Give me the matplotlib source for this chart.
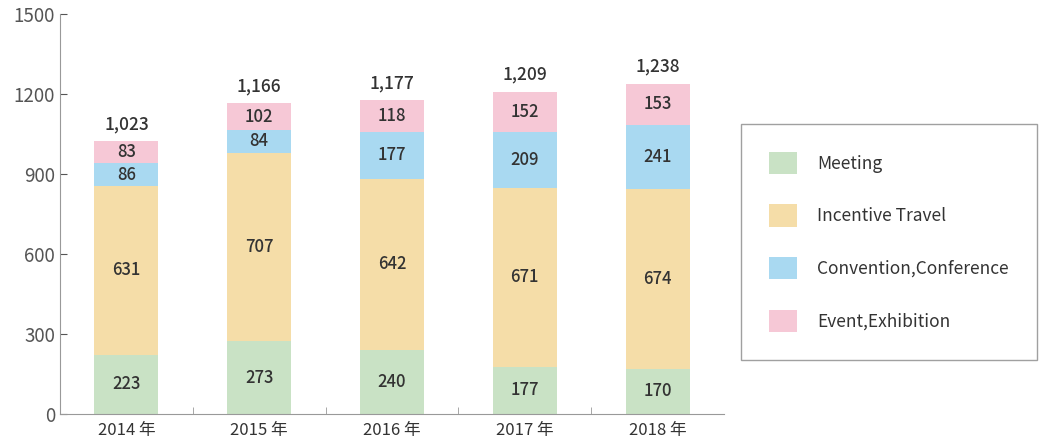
import matplotlib
matplotlib.use("Agg")
import matplotlib.pyplot as plt
import numpy as np

years = ["2014 年", "2015 年", "2016 年", "2017 年", "2018 年"]
meeting = [223, 273, 240, 177, 170]
incentive = [631, 707, 642, 671, 674]
convention = [86, 84, 177, 209, 241]
event = [83, 102, 118, 152, 153]
totals = ["1,023", "1,166", "1,177", "1,209", "1,238"]
series_names = ["Meeting", "Incentive Travel", "Convention,Conference", "Event,Exhibition"]
colors = ["#c9e2c5", "#f5dda8", "#a9d9f1", "#f6c8d6"]

plt.rcParams["font.family"] = ["Noto Sans CJK JP"]
fig = plt.figure(figsize=(10.5, 4.48), dpi=100)
ax = fig.add_axes([60/1050, 1-414/448, 664/1050, 400/448])
x = np.arange(len(years))
w = 64/133
bottom = np.zeros(len(years))
handles = []
for vals, c, name in zip([meeting, incentive, convention, event], colors, series_names):
    b = ax.bar(x, vals, w, bottom=bottom, color=c, label=name)
    handles.append(b)
    for xi, v, bt in zip(x, vals, bottom):
        ax.text(xi, bt + v/2, str(v), ha="center", va="center", fontsize=12,
                color="#333333", fontweight="medium")
    bottom += np.array(vals)
for xi, t, tv in zip(x, totals, bottom):
    ax.text(xi, tv + 30, t, ha="center", va="bottom", fontsize=12.5,
            color="#333333", fontweight="medium")

ax.set_xlim(-0.5, 4.5)
ax.set_ylim(0, 1500)
ax.set_yticks([0, 300, 600, 900, 1200, 1500])
ax.set_xticks(x)
ax.set_xticklabels(years, fontsize=12, color="#333333")
ax.tick_params(axis="x", length=0, pad=6)
ax.tick_params(axis="y", labelsize=13.5, colors="#555555", length=5, direction="in")
ax.set_xticks(np.arange(0.5, 4.5, 1), minor=True)
ax.tick_params(axis="x", which="minor", length=5, direction="in", color="#999999")
for s in ["top", "right"]:
    ax.spines[s].set_visible(False)
for s in ["left", "bottom"]:
    ax.spines[s].set_color("#999999")

leg = fig.legend(handles=handles, labels=series_names, loc="upper left",
                 bbox_to_anchor=(741/1050, 1-124/448), frameon=True, fancybox=False,
                 fontsize=12.5, handlelength=1.6, handleheight=1.6,
                 labelspacing=1.75, borderpad=1.6, handletextpad=1.2,
                 borderaxespad=0, edgecolor="#888888")
for t in leg.get_texts():
    t.set_color("#333333")
fig.savefig("out.png", dpi=100)
